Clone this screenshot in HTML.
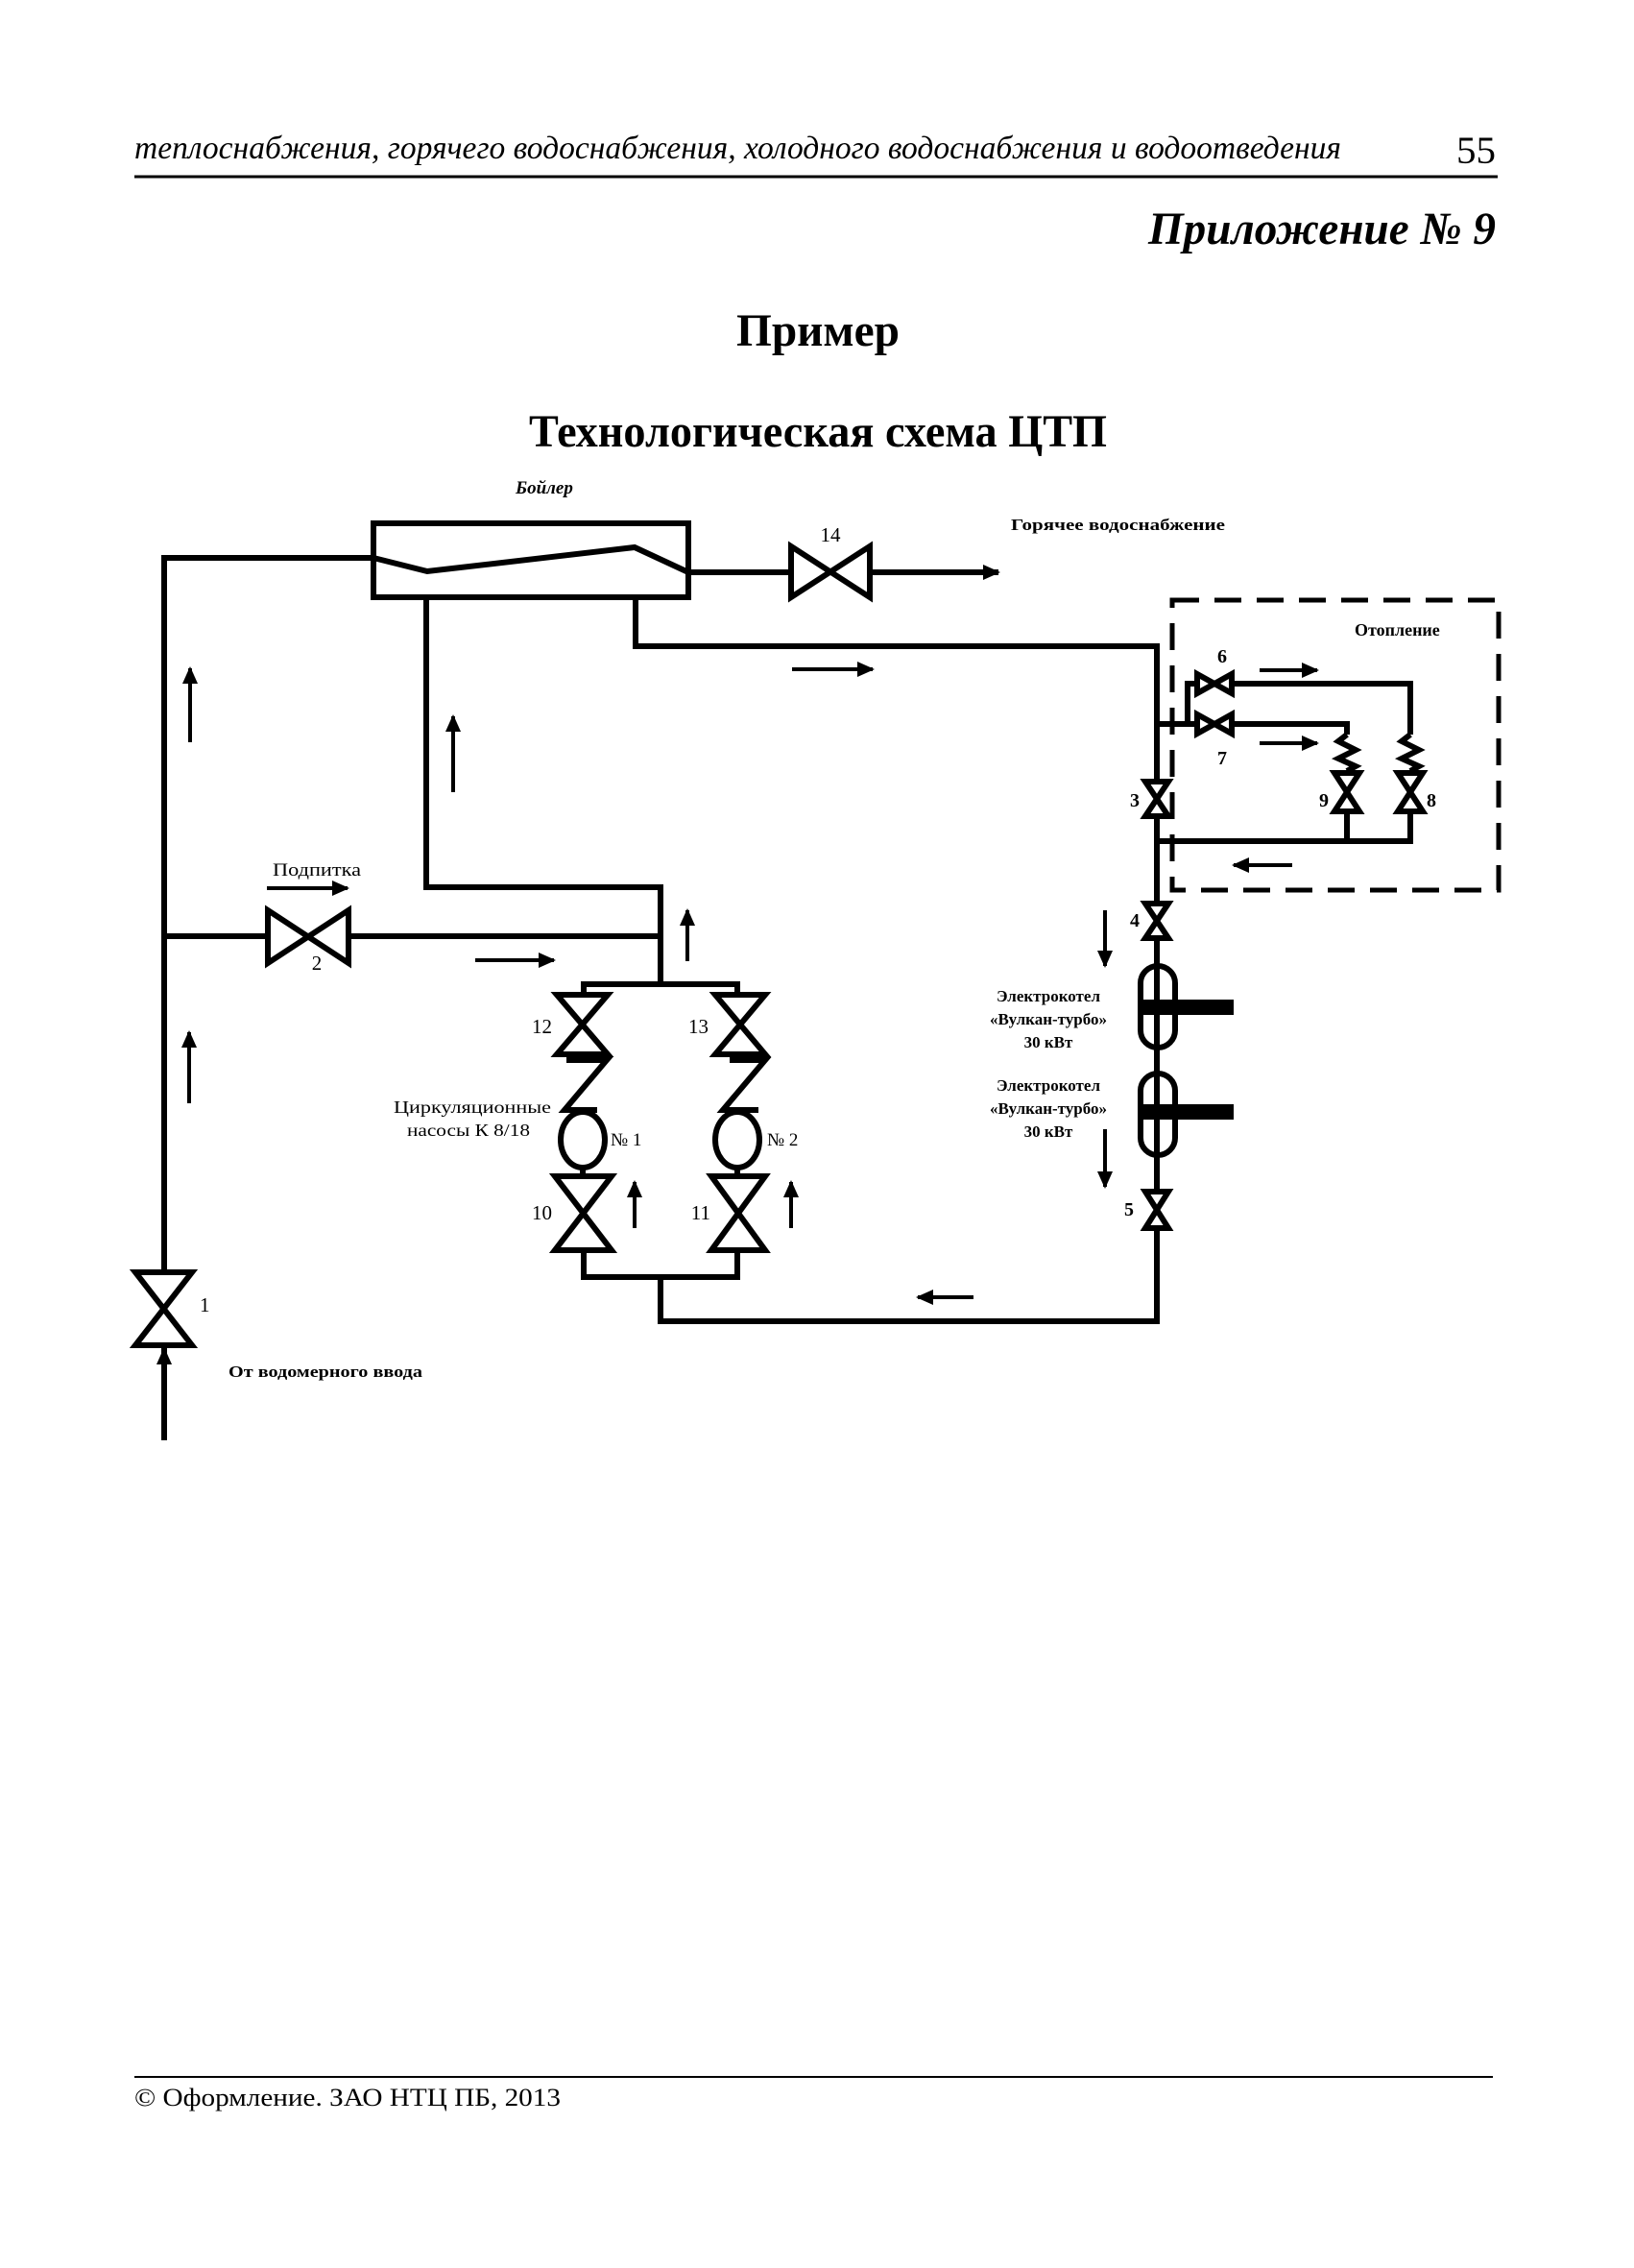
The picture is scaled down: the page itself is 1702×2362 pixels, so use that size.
<!DOCTYPE html>
<html><head><meta charset="utf-8"><style>
html,body{margin:0;padding:0;background:#fff}
svg{display:block}
text{font-family:"Liberation Serif","Noto Serif CJK SC",serif;fill:#000}
</style></head><body>
<svg width="1702" height="2362" viewBox="0 0 1702 2362" xmlns="http://www.w3.org/2000/svg">
<defs>
<marker id="ah" markerWidth="10" markerHeight="10" refX="8" refY="5" orient="auto" markerUnits="userSpaceOnUse"><path d="M0,0 L10,5 L0,10 L3,5 Z" fill="#000"/></marker>
<marker id="ahb" markerWidth="18" markerHeight="16" refX="16" refY="8" orient="auto" markerUnits="userSpaceOnUse"><path d="M0,0 L18,8 L0,16 Z" fill="#000"/></marker>
</defs>
<!-- header -->
<text x="140" y="165" font-size="34" font-style="italic" textLength="1257" lengthAdjust="spacingAndGlyphs">теплоснабжения, горячего водоснабжения, холодного водоснабжения и водоотведения</text>
<text x="1517" y="170" font-size="40" textLength="41" lengthAdjust="spacingAndGlyphs">55</text>
<line x1="140" y1="184" x2="1560" y2="184" stroke="#000" stroke-width="3"/>
<text x="1196" y="254" font-size="48" font-weight="bold" font-style="italic" textLength="362" lengthAdjust="spacingAndGlyphs">Приложение № 9</text>
<text x="852" y="360" font-size="48" font-weight="bold" text-anchor="middle" textLength="170" lengthAdjust="spacingAndGlyphs">Пример</text>
<text x="551" y="465" font-size="48" font-weight="bold" textLength="602" lengthAdjust="spacingAndGlyphs">Технологическая схема ЦТП</text>

<g stroke="#000" stroke-width="6" fill="none" stroke-linejoin="miter">
<!-- left supply -->
<polyline points="171,1500 171,581 389,581"/>
<line x1="171" y1="975" x2="688" y2="975"/>
<!-- boiler -->
<rect x="389" y="545" width="328" height="77"/>
<polyline points="389,581 445,595 661,570 717,596"/>
<line x1="717" y1="596" x2="824" y2="596"/>
<line x1="906" y1="596" x2="1040" y2="596" marker-end="url(#ahb)"/>
<polyline points="444,622 444,924 688,924 688,1025"/>
<polyline points="662,622 662,673 1205,673 1205,1376 688,1376 688,1330"/>
<!-- manifolds -->
<polyline points="608,1036 608,1025 768,1025 768,1036"/>
<polyline points="608,1302 608,1330 768,1330 768,1302"/>
<!-- heating branch -->
<polyline points="1205,754 1237,754 1237,712 1247,712"/>
<line x1="1237" y1="754" x2="1247" y2="754"/>
<polyline points="1283,712 1469,712 1469,765"/>
<polyline points="1283,754 1403,754 1403,765"/>
<polyline points="1469,765 1460,772 1478,781 1460,790 1478,798 1469,803"/>
<polyline points="1403,765 1394,772 1412,781 1394,790 1412,798 1403,803"/>
<polyline points="1205,876 1469,876 1469,845"/>
<line x1="1403" y1="876" x2="1403" y2="845"/>
<!-- pumps -->
<polyline points="590,1104 632,1104 588,1156 622,1156"/>
<polyline points="760,1104 797,1104 753,1156 790,1156"/>
<ellipse cx="607" cy="1187" rx="23" ry="29"/>
<ellipse cx="768" cy="1187" rx="23" ry="29"/>
<line x1="607" y1="1216" x2="607" y2="1225"/>
<line x1="768" y1="1216" x2="768" y2="1225"/>
<!-- electric boilers -->
<rect x="1188" y="1006" width="36" height="85" rx="18"/>
<rect x="1188" y="1118" width="36" height="85" rx="18"/>
</g>
<g fill="#000">
<rect x="1191" y="1041" width="94" height="16"/>
<rect x="1191" y="1150" width="94" height="16"/>
<rect x="770" y="1096" width="24" height="9"/>
</g>
<!-- dashed box -->
<rect x="1221" y="625" width="340" height="302" fill="none" stroke="#000" stroke-width="5" stroke-dasharray="28,16"/>

<!-- valves -->
<g stroke="#000" stroke-width="6" fill="#fff" stroke-linejoin="miter">
<polygon points="824,569 906,622 906,569 824,622"/>
<polygon points="279,948 363,1003 363,948 279,1003"/>
<polygon points="141,1325 200,1325 141,1401 200,1401"/>
<polygon points="580,1036 633,1036 580,1098 633,1098"/>
<polygon points="745,1036 797,1036 745,1098 797,1098"/>
<polygon points="578,1225 637,1225 578,1302 637,1302"/>
<polygon points="741,1225 797,1225 741,1302 797,1302"/>
<polygon points="1193,814 1217,814 1193,850 1217,850"/>
<polygon points="1193,941 1217,941 1193,977 1217,977"/>
<polygon points="1193,1241 1217,1241 1193,1279 1217,1279"/>
<polygon points="1390,805 1416,805 1390,845 1416,845"/>
<polygon points="1456,805 1482,805 1456,845 1482,845"/>
<polygon points="1247,702 1283,722 1283,702 1247,722"/>
<polygon points="1247,744 1283,764 1283,744 1247,764"/>
</g>
<line x1="590" y1="1104" x2="632" y2="1104" stroke="#000" stroke-width="6"/>

<!-- flow arrows -->
<g stroke="#000" stroke-width="4" fill="none">
<line x1="198" y1="773" x2="198" y2="696" marker-end="url(#ahb)"/>
<line x1="472" y1="825" x2="472" y2="746" marker-end="url(#ahb)"/>
<line x1="197" y1="1149" x2="197" y2="1075" marker-end="url(#ahb)"/>
<line x1="171" y1="1500" x2="171" y2="1405" marker-end="url(#ahb)"/>
<line x1="278" y1="925" x2="362" y2="925" marker-end="url(#ahb)"/>
<line x1="495" y1="1000" x2="577" y2="1000" marker-end="url(#ahb)"/>
<line x1="716" y1="1001" x2="716" y2="948" marker-end="url(#ahb)"/>
<line x1="825" y1="697" x2="909" y2="697" marker-end="url(#ahb)"/>
<line x1="661" y1="1279" x2="661" y2="1231" marker-end="url(#ahb)"/>
<line x1="824" y1="1279" x2="824" y2="1231" marker-end="url(#ahb)"/>
<line x1="1014" y1="1351" x2="956" y2="1351" marker-end="url(#ahb)"/>
<line x1="1312" y1="698" x2="1372" y2="698" marker-end="url(#ahb)"/>
<line x1="1312" y1="774" x2="1372" y2="774" marker-end="url(#ahb)"/>
<line x1="1346" y1="901" x2="1285" y2="901" marker-end="url(#ahb)"/>
<line x1="1151" y1="948" x2="1151" y2="1006" marker-end="url(#ahb)"/>
<line x1="1151" y1="1176" x2="1151" y2="1236" marker-end="url(#ahb)"/>
</g>

<!-- labels -->
<text x="537" y="514" font-size="19" font-weight="bold" font-style="italic">Бойлер</text>
<text x="1053" y="552" font-size="17" font-weight="bold" textLength="223" lengthAdjust="spacingAndGlyphs">Горячее водоснабжение</text>
<text x="1411" y="662" font-size="18" font-weight="bold">Отопление</text>
<text x="284" y="912" font-size="19" textLength="92" lengthAdjust="spacingAndGlyphs">Подпитка</text>
<text x="865" y="564" font-size="21" text-anchor="middle">14</text>
<text x="330" y="1010" font-size="21" text-anchor="middle">2</text>
<text x="208" y="1366" font-size="21">1</text>
<text x="238" y="1434" font-size="17" font-weight="bold" textLength="202" lengthAdjust="spacingAndGlyphs">От водомерного ввода</text>
<text x="575" y="1076" font-size="21" text-anchor="end">12</text>
<text x="738" y="1076" font-size="21" text-anchor="end">13</text>
<text x="575" y="1270" font-size="21" text-anchor="end">10</text>
<text x="740" y="1270" font-size="21" text-anchor="end">11</text>
<text x="574" y="1159" font-size="18" text-anchor="end" textLength="164" lengthAdjust="spacingAndGlyphs">Циркуляционные</text>
<text x="552" y="1183" font-size="18" text-anchor="end" textLength="128" lengthAdjust="spacingAndGlyphs">насосы  К 8/18</text>
<text x="636" y="1193" font-size="19">№ 1</text>
<text x="799" y="1193" font-size="19">№ 2</text>
<g font-size="17" font-weight="bold" text-anchor="middle">
<text x="1092" y="1043">Электрокотел</text>
<text x="1092" y="1067">«Вулкан-турбо»</text>
<text x="1092" y="1091">30 кВт</text>
<text x="1092" y="1136">Электрокотел</text>
<text x="1092" y="1160">«Вулкан-турбо»</text>
<text x="1092" y="1184">30 кВт</text>
</g>
<g font-size="20" font-weight="bold" text-anchor="middle">
<text x="1273" y="690">6</text>
<text x="1273" y="796">7</text>
<text x="1182" y="840">3</text>
<text x="1379" y="840">9</text>
<text x="1491" y="840">8</text>
<text x="1182" y="965">4</text>
<text x="1176" y="1266">5</text>
</g>

<!-- footer -->
<line x1="140" y1="2163" x2="1555" y2="2163" stroke="#000" stroke-width="2"/>
<text x="140" y="2193" font-size="26" textLength="444" lengthAdjust="spacingAndGlyphs">© Оформление. ЗАО НТЦ ПБ, 2013</text>
</svg>
</body></html>
